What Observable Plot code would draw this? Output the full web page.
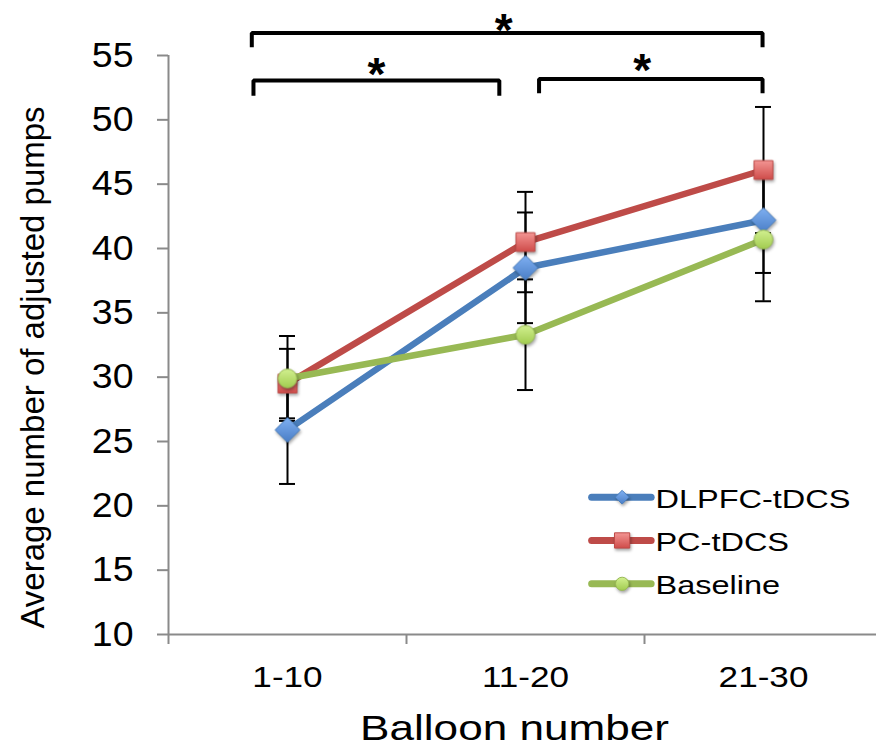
<!DOCTYPE html>
<html><head><meta charset="utf-8">
<script src="https://cdn.jsdelivr.net/npm/d3@7"></script>
<script src="https://cdn.jsdelivr.net/npm/@observablehq/plot@0.6"></script>
<style>
html,body{margin:0;padding:0;background:#fff;}
#chart{width:876px;height:746px;overflow:hidden;}
svg g[aria-label="dot"]{filter:drop-shadow(1px 2px 1.5px rgba(0,0,0,0.35));}
</style></head><body><div id="chart"></div>
<script>
// ---- data ----
const categories = ["1-10", "11-20", "21-30"];
const seriesNames = ["DLPFC-tDCS", "PC-tDCS", "Baseline"];
const dlpfcMean = [25.9, 38.5, 42.2];
const dlpfcErr  = [4.2, 4.3, 4.1];
const pcMean    = [29.5, 40.5, 46.1];
const pcErr     = [2.7, 3.9, 4.9];
const baseMean  = [29.9, 33.3, 40.7];
const baseErr   = [3.3, 4.3, 4.8];
const yTicks = [10, 15, 20, 25, 30, 35, 40, 45, 50, 55];
const xBoundaries = [0, 1, 2, 3];
const xTitle = "Balloon number";
const yTitle = "Average number of adjusted pumps";
// significance brackets (x in category-index units, y in data units)
const bracketFrom  = [0.35, 0.357, 1.557];
const bracketTo    = [2.496, 1.39, 2.496];
const bracketLevel = [56.75, 53.05, 53.18];
const bracketEnd   = [55.64, 51.88, 52.06];
const starX = [1.408, 0.874, 1.99];
const starY = [57.84, 54.4, 54.7];
const starLabel = ["*", "*", "*"];

// ---- style ----
const lineColors = ["#4a7ebb", "#be4b48", "#98b954"];
const markerFill = ["#5b8fd8", "#e26664", "#b6dc6a"];
const markerEdge = ["#4a7ebb", "#be4b48", "#98b954"];
const markerR = [11.2, 10.6, 9.4];
const legendR = [6.2, 8.6, 6.6];
const symbols = ["diamond2", "square", "circle"];
const axisGray = "#8a8a8a";
const font = "'Liberation Sans', Arial, Helvetica, sans-serif";
// legend layout (data units)
const legendX1 = 1.78, legendX2 = 2.03, legendMarkX = 1.906, legendTextX = 2.046;
const legendYs = [20.67, 17.31, 13.94];

// ---- table ----
const means = [dlpfcMean, pcMean, baseMean];
const errs = [dlpfcErr, pcErr, baseErr];
const rows = [];
seriesNames.forEach((s, si) => categories.forEach((c, ci) =>
  rows.push({series: s, cat: c, x: ci + 0.5, mean: means[si][ci], err: errs[si][ci]})));
const brackets = [];
bracketFrom.forEach((f, i) => {
  brackets.push({id: i, x: f, y: bracketEnd[i]});
  brackets.push({id: i, x: f, y: bracketLevel[i]});
  brackets.push({id: i, x: bracketTo[i], y: bracketLevel[i]});
  brackets.push({id: i, x: bracketTo[i], y: bracketEnd[i]});
});
const stars = starX.map((x, i) => ({x, y: starY[i], t: starLabel[i]}));
const legendRows = seriesNames.map((s, i) => ({series: s, y: legendYs[i]}));

const marks = [
  // axes
  Plot.ruleY([10], {x1: () => 0, x2: () => 3, stroke: axisGray, strokeWidth: 2}),
  Plot.ruleX([0], {y1: () => 10, y2: () => 55, stroke: axisGray, strokeWidth: 2}),
  Plot.axisY({ticks: yTicks, label: null, tickSize: 11, tickPadding: 24, fontSize: 35, stroke: axisGray, strokeWidth: 2, fill: "black", tickFormat: d => String(d)}),
  Plot.axisX({ticks: xBoundaries, label: null, tickSize: 10, tickFormat: () => "", stroke: axisGray, strokeWidth: 2}),
  Plot.axisX({ticks: categories.map((c, i) => i + 0.5), label: null, tickSize: 0, tickPadding: 31, fontSize: 30, fill: "black", tickFormat: d => categories[Math.floor(d)]}),
  Plot.text([xTitle], {frameAnchor: "bottom", text: d => d, dx: -8, dy: 105.5, lineAnchor: "bottom", fontSize: 35, fill: "black"}),
  Plot.text([yTitle], {frameAnchor: "left", text: d => d, rotate: -90, textAnchor: "middle", lineAnchor: "bottom", dx: -125, dy: 22.5, fontSize: 33, fill: "black"}),
  // error bars
  Plot.ruleX(rows, {x: "x", y1: d => d.mean - d.err, y2: d => d.mean + d.err, stroke: "black", strokeWidth: 2}),
  Plot.ruleY(rows, {x1: "x", x2: "x", y: d => d.mean + d.err, insetLeft: -8, insetRight: -8, stroke: "black", strokeWidth: 2}),
  Plot.ruleY(rows, {x1: "x", x2: "x", y: d => d.mean - d.err, insetLeft: -8, insetRight: -8, stroke: "black", strokeWidth: 2})
];
seriesNames.forEach((s, si) => {
  const d = rows.filter(r => r.series === s);
  marks.push(Plot.line(d, {x: "x", y: "mean", stroke: "series", strokeWidth: 6.5, strokeLinecap: "round", strokeLinejoin: "round"}));
  marks.push(Plot.dot(d, {x: "x", y: "mean", symbol: "series", r: markerR[si], fill: markerFill[si], stroke: markerEdge[si], strokeWidth: 1}));
});
// brackets
marks.push(Plot.line(brackets, {x: "x", y: "y", z: "id", stroke: "black", strokeWidth: 4, strokeLinejoin: "miter", strokeLinecap: "butt"}));
marks.push(Plot.text(stars, {x: "x", y: "y", text: "t", fontSize: 46, fontWeight: "bold", fill: "black", dy: 12}));
// legend
marks.push(Plot.ruleY(legendRows, {x1: () => legendX1, x2: () => legendX2, y: "y", stroke: "series", strokeWidth: 7, strokeLinecap: "round"}));
seriesNames.forEach((s, si) => {
  marks.push(Plot.dot([legendRows[si]], {x: () => legendMarkX, y: "y", symbol: "series", r: legendR[si], fill: markerFill[si], stroke: markerEdge[si], strokeWidth: 1}));
});
marks.push(Plot.text(legendRows, {x: () => legendTextX, y: "y", text: "series", textAnchor: "start", fontSize: 26, fill: "black", dy: 2}));

const chart = Plot.plot({
  width: 876,
  height: 746,
  marginLeft: 168,
  marginRight: 0,
  marginTop: 55,
  marginBottom: 112,
  x: {type: "linear", domain: [0, 3], range: [168, 882], label: null},
  y: {type: "linear", domain: [10, 55], range: [634, 55], label: null},
  color: {domain: seriesNames, range: lineColors},
  symbol: {domain: seriesNames, range: symbols},
  style: {fontFamily: font, background: "#fff", color: "black", overflow: "visible"},
  marks
});
document.getElementById("chart").appendChild(chart);

// gradients for markers
const ns = "http://www.w3.org/2000/svg";
const defs = document.createElementNS(ns, "defs");
const grads = [["#7fb0f2", "#4a7ec6"], ["#f39593", "#cf4c4a"], ["#d2f090", "#a2cc50"]];
grads.forEach((g, i) => {
  const lg = document.createElementNS(ns, "linearGradient");
  lg.setAttribute("id", "mg" + i);
  lg.setAttribute("x1", "0"); lg.setAttribute("y1", "0");
  lg.setAttribute("x2", "0"); lg.setAttribute("y2", "1");
  [["0", g[0]], ["1", g[1]]].forEach(([o, c]) => {
    const st = document.createElementNS(ns, "stop");
    st.setAttribute("offset", o); st.setAttribute("stop-color", c);
    lg.appendChild(st);
  });
  defs.appendChild(lg);
});
chart.insertBefore(defs, chart.firstChild);
chart.querySelectorAll('g[aria-label="dot"]').forEach(g => {
  const f = (g.getAttribute("fill") || "").toLowerCase();
  const i = markerFill.indexOf(f);
  if (i >= 0) g.setAttribute("fill", `url(#mg${i})`);
});

// horizontal stretch of text to match reference proportions
const stretch = new Map();
categories.forEach(c => stretch.set(c, 1.17));
seriesNames.forEach(s => stretch.set(s, 1.25));
stretch.set(xTitle, 1.26);
yTicks.forEach(t => stretch.set(String(t), 1.07));
chart.querySelectorAll("text").forEach(t => {
  const k = stretch.get(t.textContent);
  if (k) {
    const L = t.getComputedTextLength();
    t.setAttribute("textLength", (L * k).toFixed(1));
    t.setAttribute("lengthAdjust", "spacingAndGlyphs");
  }
});
</script>
</body></html>
